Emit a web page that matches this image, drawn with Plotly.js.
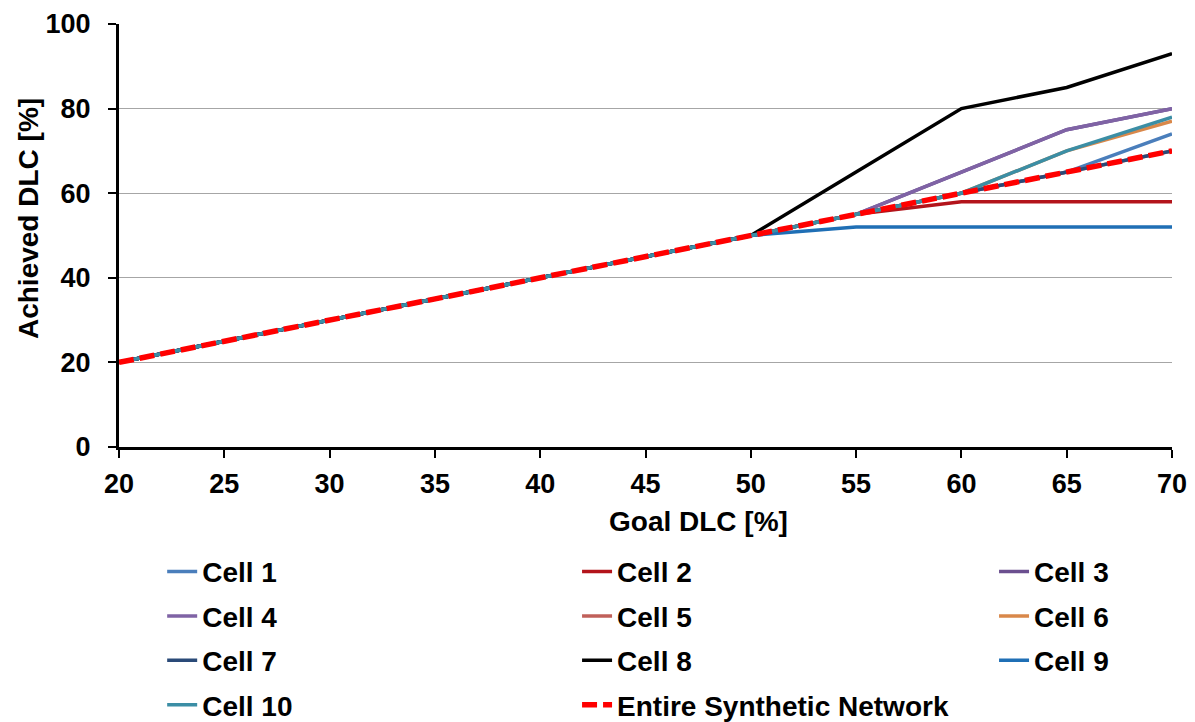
<!DOCTYPE html>
<html>
<head>
<meta charset="utf-8">
<script src="https://cdn.plot.ly/plotly-3.0.1.min.js"></script>
<style>html,body{margin:0;padding:0;background:#fff;}#chart{width:1195px;height:722px;}</style>
</head>
<body>
<div id="chart"></div>
<script>
// Goal DLC [%]
const goalDLC = [20, 25, 30, 35, 40, 45, 50, 55, 60, 65, 70];
// Achieved DLC [%] per series
const cell1  = [20, 25, 30, 35, 40, 45, 50, 55, 60, 65, 74];
const cell2  = [20, 25, 30, 35, 40, 45, 50, 55, 58, 58, 58];
const cell3  = [20, 25, 30, 35, 40, 45, 50, 55, 65, 75, 80];
const cell4  = [20, 25, 30, 35, 40, 45, 50, 55, 65, 75, 80];
const cell5  = [20, 25, 30, 35, 40, 45, 50, 55, 60, 65, 70];
const cell6  = [20, 25, 30, 35, 40, 45, 50, 55, 60, 70, 77];
const cell7  = [20, 25, 30, 35, 40, 45, 50, 55, 60, 65, 70];
const cell8  = [20, 25, 30, 35, 40, 45, 50, 65, 80, 85, 93];
const cell9  = [20, 25, 30, 35, 40, 45, 50, 52, 52, 52, 52];
const cell10 = [20, 25, 30, 35, 40, 45, 50, 55, 60, 70, 78];
const entireNetwork = [20, 25, 30, 35, 40, 45, 50, 55, 60, 65, 70];

const seriesNames = ["Cell 1","Cell 2","Cell 3","Cell 4","Cell 5","Cell 6","Cell 7","Cell 8","Cell 9","Cell 10","Entire Synthetic Network"];
const seriesData = [cell1, cell2, cell3, cell4, cell5, cell6, cell7, cell8, cell9, cell10, entireNetwork];
const seriesColors = ["#4a7ebb","#b3141b","#6b4f8f","#7f63a5","#c0605a","#d9884a","#2a4a78","#000000","#1f6fb5","#3b8ea5","#ff0000"];
const legendIds = ["legend","legend2","legend3","legend","legend2","legend3","legend","legend2","legend3","legend","legend2"];

const fontFam = "Liberation Sans, Arial, sans-serif";

const traces = seriesNames.map((name, i) => {
  const isNet = i === seriesNames.length - 1;
  return {
    type: "scatter",
    mode: "lines",
    name: name,
    x: goalDLC,
    y: seriesData[i],
    legend: legendIds[i],
    legendgroup: "g" + i,
    line: {
      color: seriesColors[i],
      width: isNet ? 5.5 : 3.5,
      dash: isNet ? "15px,6px" : "solid"
    },
    hoverinfo: "x+y+name"
  };
});

const legendCommon = {
  orientation: "v",
  xanchor: "left",
  yanchor: "top",
  y: -0.236,
  bgcolor: "rgba(0,0,0,0)",
  borderwidth: 0,
  tracegroupgap: 5,
  font: {family: fontFam, size: 28, color: "#000", weight: "bold"}
};

const layout = {
  width: 1195,
  height: 722,
  paper_bgcolor: "#ffffff",
  plot_bgcolor: "#ffffff",
  margin: {l: 119, r: 23, t: 24, b: 275, autoexpand: false},
  showlegend: true,
  legend: Object.assign({}, legendCommon, {x: 0.041}),
  legend2: Object.assign({}, legendCommon, {x: 0.435}),
  legend3: Object.assign({}, legendCommon, {x: 0.831}),
  xaxis: {
    range: [20, 70],
    tickmode: "linear",
    tick0: 20,
    dtick: 5,
    showgrid: false,
    zeroline: false,
    showline: true,
    linecolor: "#000",
    linewidth: 3,
    ticks: "outside",
    ticklen: 8,
    tickwidth: 2,
    tickcolor: "#000",
    ticklabelstandoff: 3,
    tickfont: {family: fontFam, size: 27, color: "#000", weight: "bold"}
  },
  yaxis: {
    range: [0, 100],
    tickmode: "linear",
    tick0: 0,
    dtick: 20,
    showgrid: true,
    gridcolor: "#a6a6a6",
    gridwidth: 1,
    zeroline: false,
    showline: true,
    linecolor: "#000",
    linewidth: 3,
    ticks: "outside",
    ticklen: 8,
    tickwidth: 2,
    tickcolor: "#000",
    ticklabelstandoff: 12,
    tickfont: {family: fontFam, size: 27, color: "#000", weight: "bold"}
  },
  annotations: [
    {
      text: "Goal DLC [%]",
      xref: "paper", yref: "paper",
      x: 0.55, y: -0.177,
      xanchor: "center", yanchor: "middle",
      showarrow: false,
      font: {family: fontFam, size: 28, color: "#000", weight: "bold"}
    },
    {
      text: "Achieved DLC [%]",
      xref: "paper", yref: "paper",
      x: -0.0864, y: 0.539,
      xanchor: "center", yanchor: "middle",
      textangle: -90,
      showarrow: false,
      font: {family: fontFam, size: 28, color: "#000", weight: "bold"}
    }
  ]
};

Plotly.newPlot("chart", traces, layout, {displayModeBar: false, staticPlot: false});
</script>
</body>
</html>
